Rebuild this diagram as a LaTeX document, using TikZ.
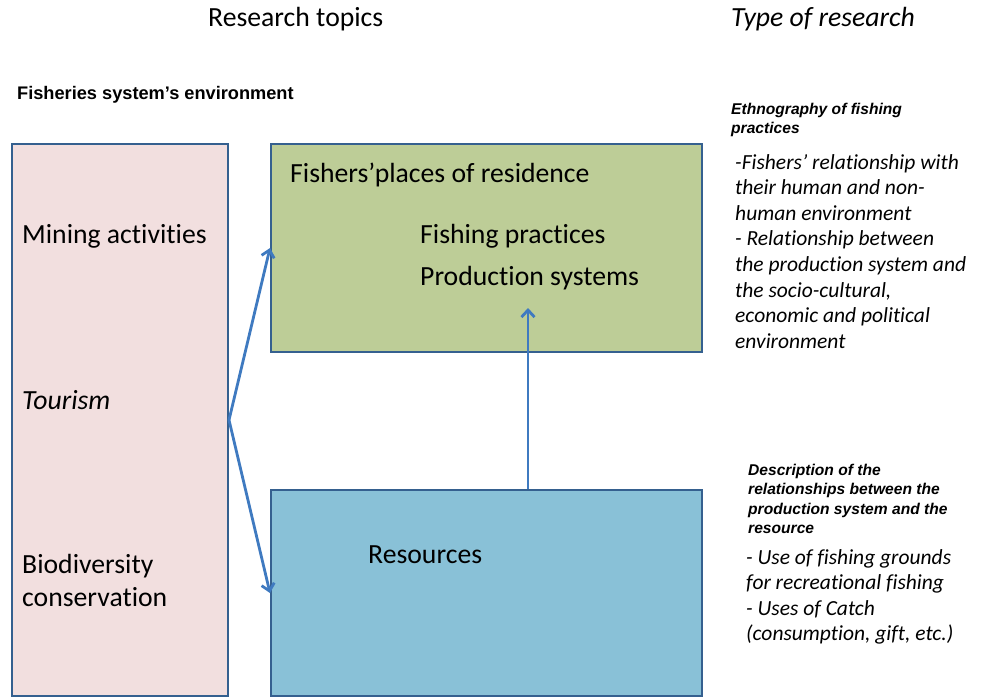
\documentclass[tikz,border=0pt]{standalone}
\usepackage{fontspec}
\setmainfont[Ligatures=NoCommon]{Carlito}
\newfontfamily\arialf{Liberation Sans}
\usetikzlibrary{arrows.meta}
\definecolor{bordc}{HTML}{35608F}
\definecolor{arrc}{HTML}{3F7AC0}
\definecolor{pinkc}{HTML}{F2DFDF}
\definecolor{greenc}{HTML}{BDCD97}
\definecolor{bluec}{HTML}{89C1D7}
\tikzset{
  box/.style={draw=bordc, line width=2pt, inner sep=0pt, anchor=north west},
  lbl/.style={inner sep=0pt, anchor=west, font=\fontsize{27.7}{32}\selectfont},
  conn/.style={draw=arrc, line width=2.8pt, -{Straight Barb[length=7pt,width=13pt,line width=2.8pt]}},
  smallb/.style={inner sep=0pt, anchor=north west, align=left, font=\arialf\bfseries\itshape\fontsize{15.6}{19.3}\selectfont},
  bodyi/.style={inner sep=0pt, anchor=north west, align=left, font=\itshape\fontsize{21.5}{25.6}\selectfont},
}
\begin{document}
\begin{tikzpicture}[x=1pt,y=-1pt]
\useasboundingbox (0,0) rectangle (983,697);
% boxes
\node[box, fill=pinkc, minimum width=216pt, minimum height=552pt] (env) at (11,143) {};
\node[box, fill=greenc, minimum width=431pt, minimum height=208pt] (fish) at (270,143) {};
\node[box, fill=bluec, minimum width=431pt, minimum height=206pt] (res) at (270,489) {};
% titles
\node[lbl] (t1) at (208,19) {Research topics};
\node[lbl, font=\itshape\fontsize{27.7}{32}\selectfont] (t2) at (731,19) {Type of research};
\node[lbl, font=\arialf\bfseries\fontsize{18.2}{22}\selectfont] (envh) at (17,95) {Fisheries system’s environment};
% left box texts
\node[lbl] (mining) at (22,236) {Mining activities};
\node[lbl, font=\itshape\fontsize{27.7}{32}\selectfont] (tour) at (22,400) {Tourism};
\node[lbl, align=left, font=\fontsize{27.7}{33}\selectfont] (bio) at (22,580) {Biodiversity\\conservation};
% green box texts
\node[lbl] (resid) at (290,175) {Fishers’places of residence};
\node[lbl] (fp) at (420,236) {Fishing practices};
\node[lbl] (prod) at (420,278) {Production systems};
% blue box text
\node[lbl] (resources) at (368,555) {Resources};
% right texts
\node[smallb] (eth) at (731,102.5) {Ethnography of fishing\\practices};
\node[bodyi] (ethb) at (735,154) {-Fishers’ relationship with\\their human and non-\\human environment\\- Relationship between\\the production system and\\the socio-cultural,\\economic and political\\environment};
\node[smallb] (desc) at (748,464) {Description of the\\relationships between the\\production system and the\\resource};
\node[bodyi] (descb) at (746,549) {- Use of fishing grounds\\for recreational fishing\\- Uses of Catch\\(consumption, gift, etc.)};
% connectors
\coordinate (upend) at (528,290);
\draw[conn] (env.east) -- (fish.west);
\draw[conn] (env.east) -- (res.west);
\draw[conn, shorten >=18pt] (res.north -| upend) -- (upend);
\end{tikzpicture}
\end{document}
